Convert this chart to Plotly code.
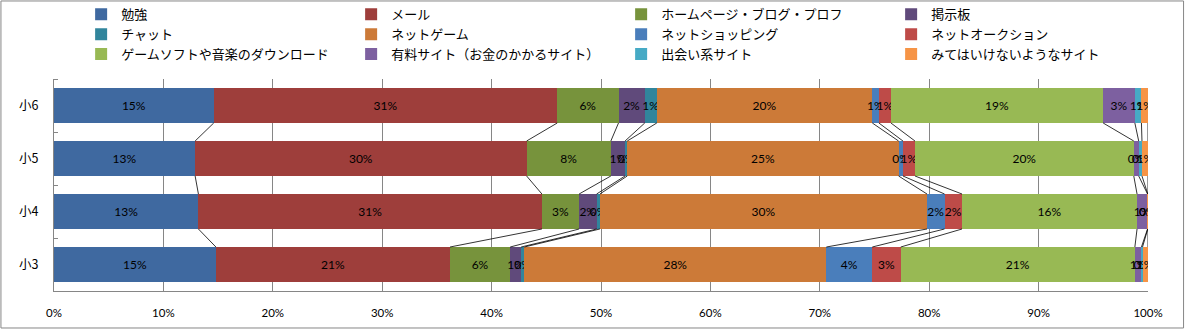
import plotly.graph_objects as go

categories = ["小3", "小4", "小5", "小6"]
series_names = [
    "勉強", "メール", "ホームページ・ブログ・プロフ", "掲示板",
    "チャット", "ネットゲーム", "ネットショッピング", "ネットオークション",
    "ゲームソフトや音楽のダウンロード", "有料サイト（お金のかかるサイト）", "出会い系サイト", "みてはいけないようなサイト",
]
# values (%) in category order 小3, 小4, 小5, 小6
benkyo = [14.8, 13.2, 12.9, 14.6]
mail = [21.4, 31.4, 30.3, 31.4]
homepage = [5.5, 3.4, 7.7, 5.6]
keijiban = [1.0, 1.6, 1.3, 2.4]
chat = [0.3, 0.3, 0.2, 1.1]
netgame = [27.6, 29.9, 24.8, 19.7]
shopping = [4.2, 1.6, 0.4, 0.6]
auction = [2.6, 1.6, 1.1, 1.1]
download = [21.4, 16.0, 20.0, 19.4]
yuryo = [0.6, 0.96, 0.45, 2.9]
deai = [0.1, 0.02, 0.3, 0.6]
mitewa = [0.5, 0.02, 0.55, 0.6]
x_ticks = [0, 10, 20, 30, 40, 50, 60, 70, 80, 90, 100]

series_values = [benkyo, mail, homepage, keijiban, chat, netgame,
                 shopping, auction, download, yuryo, deai, mitewa]
colors = ["#3F69A0", "#9E3E3B", "#77933C", "#604A7B", "#31859C", "#CC7A38",
          "#4A7EBB", "#BE4B48", "#98B954", "#7D60A0", "#46AAC5", "#F69446"]

ypos = list(range(len(categories)))
BAR_W = 0.66
JP = "Noto Sans CJK JP"
NUM = "Lato"

fig = go.Figure()
for name, vals, col in zip(series_names, series_values, colors):
    fig.add_trace(go.Bar(
        y=ypos, x=vals, name=name, orientation="h", width=BAR_W,
        marker=dict(color=col, line=dict(width=0)),
        texttemplate="%{x:.0f}%", textposition="inside", insidetextanchor="middle",
        constraintext="none", textangle=0,
        textfont=dict(family=NUM, size=12, color="black"),
        hoverinfo="skip",
    ))

# series lines connecting segment ends between adjacent bars
lx, ly = [], []
cum = [0.0] * len(categories)
for vals in series_values:
    cum = [c + v for c, v in zip(cum, vals)]
    for i in range(len(categories) - 1):
        lx += [cum[i], cum[i + 1], None]
        ly += [ypos[i] + BAR_W / 2, ypos[i + 1] - BAR_W / 2, None]
fig.add_trace(go.Scatter(x=lx, y=ly, mode="lines", line=dict(color="#000000", width=0.8),
                         showlegend=False, hoverinfo="skip"))

fig.update_layout(
    width=1185, height=330,
    margin=dict(l=54, r=37, t=79, b=39, autoexpand=False),
    barmode="stack",
    paper_bgcolor="white", plot_bgcolor="white",
    font=dict(family=JP, size=12, color="black"),
    showlegend=True,
    legend=dict(
        orientation="h", x=0.0248, xanchor="left", y=1.376, yanchor="top",
        entrywidth=225, entrywidthmode="pixels", traceorder="normal",
        bgcolor="rgba(0,0,0,0)",
        font=dict(family=JP, size=13, color="black"),
        itemclick=False, itemdoubleclick=False, tracegroupgap=0,
    ),
    xaxis=dict(
        range=[0, 100], tickvals=x_ticks, ticktext=[f"{t}%" for t in x_ticks],
        showgrid=True, gridcolor="#868686", gridwidth=1,
        showline=True, linecolor="#868686", linewidth=1,
        ticks="", zeroline=False, fixedrange=True,
        tickfont=dict(family=NUM, size=11.5, color="black"),
        ticklabelstandoff=11,
    ),
    yaxis=dict(
        range=[-0.5, len(categories) - 0.5], tickvals=ypos, ticktext=categories,
        showgrid=False, showline=True, linecolor="#868686", linewidth=1,
        ticks="", zeroline=False, fixedrange=True,
        minor=dict(ticks="inside", ticklen=4, tickcolor="#868686", tick0=0.5, dtick=1, showgrid=False),
        tickfont=dict(family=JP, size=12.5, color="black"),
        ticklabelstandoff=12,
    ),
    shapes=[dict(type="rect", xref="paper", yref="paper",
                 x0=-0.0485, x1=1.0325, y0=-0.1745, y1=1.368,
                 line=dict(color="#878787", width=1), fillcolor="rgba(0,0,0,0)", layer="below")],
)

fig.write_html("out.html")
